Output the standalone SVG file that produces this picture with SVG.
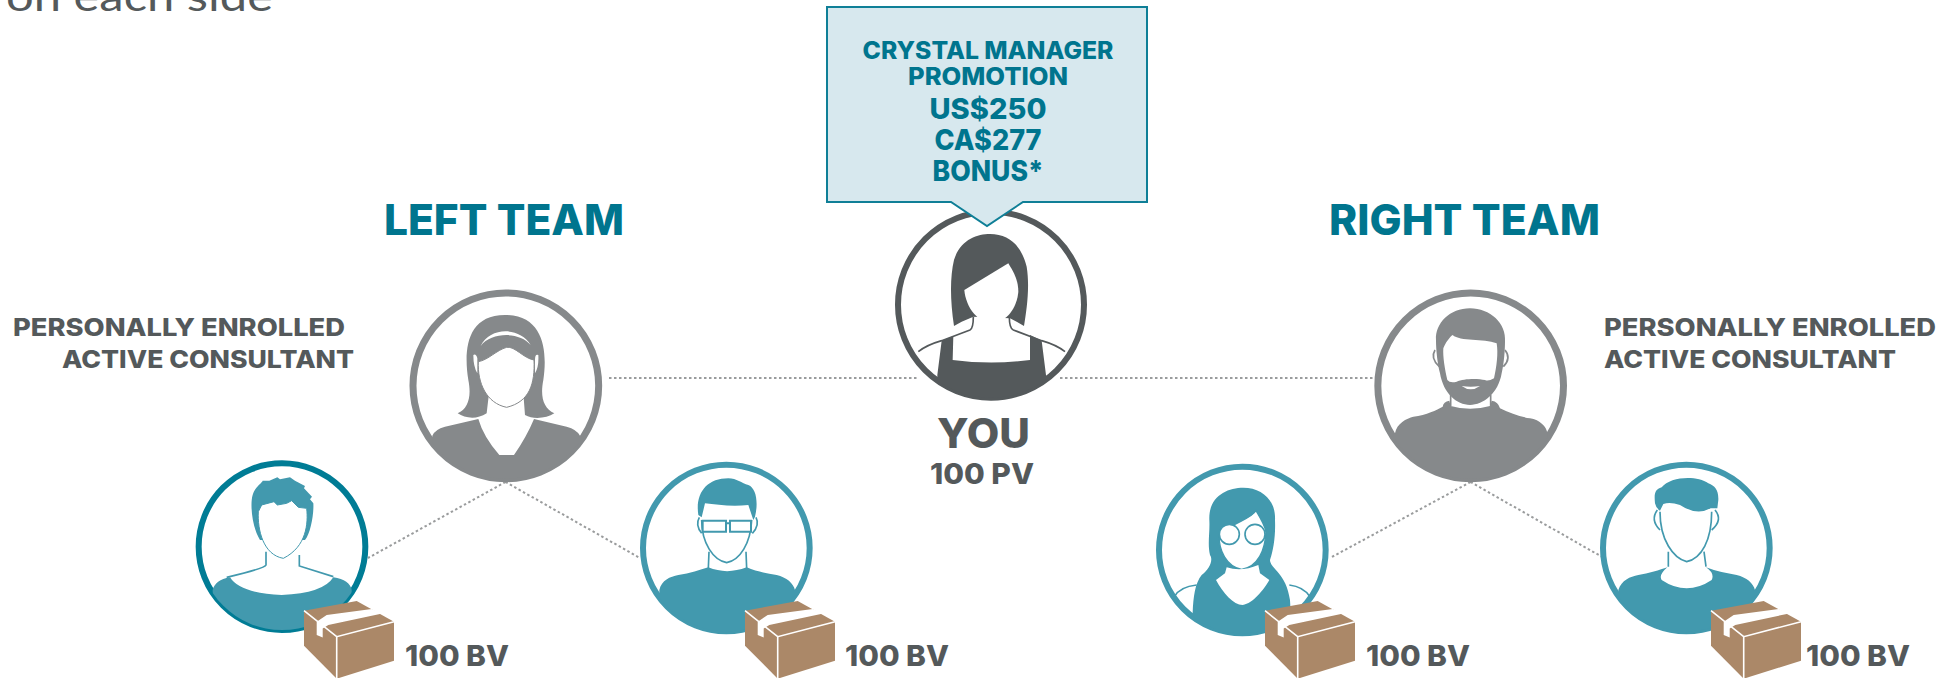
<svg xmlns="http://www.w3.org/2000/svg" width="1951" height="678" viewBox="0 0 1951 678">
<style>
text{font-family:"Inter","Liberation Sans",sans-serif;font-weight:700}
.d{fill:#54595b}.t{fill:#00758e}.m{fill:#86898b}
.big{font-weight:800}
.conn{fill:none;stroke:#9a9c9d;stroke-width:2;stroke-dasharray:2.5 2.5}
.ring{fill:#fff;stroke-width:18}
.w{fill:#fff}
.ol{fill:none;stroke-width:5}
.tl{fill:#4299ae}.tls{stroke:#4299ae}
</style>
<defs>
<g id="box">
<path d="M0 0L52.7-9.7L90 11V50L32.7 68L0 35Z" fill="#ab8868"/>
<path d="M0 0L32.7 26L90 11M32.7 26V68" fill="none" stroke="#fff" stroke-width="1.6"/>
<path d="M22.7 4.3L67.7-1.7L78.3 2.7L24.3 14.3L18.7 17.7V26.7L12.7 24.3V11Z" fill="#fff"/>
</g>
<clipPath id="c-you"><circle cx="573" cy="914" r="279"/></clipPath>
<clipPath id="c-lm"><circle cx="347.5" cy="347.5" r="279"/></clipPath>
<clipPath id="c-rm"><circle cx="362" cy="347.5" r="279"/></clipPath>
<clipPath id="c-1"><circle cx="306" cy="320" r="250"/></clipPath>
<clipPath id="c-2"><circle cx="319" cy="324" r="250"/></clipPath>
<clipPath id="c-3"><circle cx="337" cy="330" r="250"/></clipPath>
</defs>
<text x="6" y="11" font-size="41" class="d" style="font-weight:400;font-family:'Lato','Open Sans',sans-serif" textLength="267" lengthAdjust="spacingAndGlyphs">on each side</text>
<g id="connectors">
<path class="conn" d="M609 378H918M1060 378H1374M505.5 482L368 558M505.5 482L640 558M1470.5 482L1330 558M1470.5 482L1604 558"/>
</g>
<g id="you" transform="translate(800,0) scale(.33333)">
<circle cx="573" cy="914" r="279" fill="#fff" stroke="#54595b" stroke-width="18"/>
<path d="M462 978C450 900 450 830 462 780C480 720 530 702 570 702C630 702 665 740 680 800C690 860 680 930 672 978L650 965L630 955L520 950L485 965Z" fill="#54595b"/>
<path d="M493 870L625 790C640 815 655 840 655 875C650 930 615 968 575 968C535 968 498 925 493 870Z" fill="#fff"/>
<path clip-path="url(#c-you)" d="M412 1125L425 1022L460 1008L458 1080Q573 1095 690 1080L690 1005L725 1022L738 1125V1250H412Z" fill="#54595b"/>
<path class="ol" stroke="#54595b" d="M355 1055Q380 1035 425 1022L510 990Q520 985 520 950M795 1055Q770 1035 725 1022L640 990Q628 985 628 950"/>
</g>
<g id="callout">
<path d="M827 7H1147V202H1023L987 226L951 202H827Z" fill="#d7e8ee" stroke="#0f7f97" stroke-width="2"/>
<text class="t big" x="988" y="59" font-size="24" text-anchor="middle" textLength="251" lengthAdjust="spacingAndGlyphs">CRYSTAL MANAGER</text>
<text class="t big" x="988" y="85" font-size="24" text-anchor="middle" textLength="160" lengthAdjust="spacingAndGlyphs">PROMOTION</text>
<text class="t big" x="988" y="119" font-size="29" text-anchor="middle" textLength="117" lengthAdjust="spacingAndGlyphs">US$250</text>
<text class="t big" x="988" y="150" font-size="29" text-anchor="middle" textLength="107" lengthAdjust="spacingAndGlyphs">CA$277</text>
<text class="t big" x="988" y="181" font-size="29" text-anchor="middle" textLength="111" lengthAdjust="spacingAndGlyphs">BONUS*</text>
</g>
<g id="you-label">
<text class="d big" x="937" y="448" font-size="41" textLength="93" lengthAdjust="spacingAndGlyphs">YOU</text>
<text class="d big" x="930" y="484" font-size="29" textLength="104" lengthAdjust="spacingAndGlyphs">100 PV</text>
</g>
<g id="team-labels">
<text class="t big" x="384" y="235" font-size="43" textLength="240" lengthAdjust="spacingAndGlyphs">LEFT TEAM</text>
<text class="t big" x="1329" y="235" font-size="43" textLength="271" lengthAdjust="spacingAndGlyphs">RIGHT TEAM</text>
</g>
<g id="left-manager-label">
<text class="d big" x="13" y="336" font-size="24" textLength="332" lengthAdjust="spacingAndGlyphs">PERSONALLY ENROLLED</text>
<text class="d big" x="62" y="368" font-size="24" textLength="292" lengthAdjust="spacingAndGlyphs">ACTIVE CONSULTANT</text>
</g>
<g id="right-manager-label">
<text class="d big" x="1604" y="336" font-size="24" textLength="332" lengthAdjust="spacingAndGlyphs">PERSONALLY ENROLLED</text>
<text class="d big" x="1604" y="368" font-size="24" textLength="292" lengthAdjust="spacingAndGlyphs">ACTIVE CONSULTANT</text>
</g>
<g id="left-manager" transform="translate(390,270) scale(.33333)">
<circle cx="347.5" cy="347.5" r="278.5" fill="#fff" stroke="#86898b" stroke-width="21"/>
<path d="M203 430C235 415 245 380 235 330C222 250 225 135 345 135C465 135 472 250 460 330C450 380 460 415 493 430C470 445 430 450 405 435L400 370H297L290 430C260 450 225 445 203 430Z" fill="#86898b"/>
<path d="M265 275C295 270 320 240 350 232C375 228 400 265 432 270C435 340 420 395 350 412C290 400 262 340 265 275Z" fill="#fff" stroke="#86898b" stroke-width="3"/>
<path class="w" d="M272 228C300 170 390 170 422 225C390 185 305 185 272 228ZM250 255Q258 250 262 265V310Q250 290 250 255ZM445 255Q435 250 435 270V310Q447 290 445 255Z"/>
<path clip-path="url(#c-lm)" d="M127 497Q135 478 165 470L265 447Q280 500 328 555H372Q410 500 432 447L530 470Q560 478 570 497V700H127Z" fill="#86898b"/>
</g>
<g id="right-manager" transform="translate(1350,270) scale(.33333)">
<circle cx="362" cy="347.5" r="278.5" fill="#fff" stroke="#86898b" stroke-width="21"/>
<path d="M258 210C255 160 300 115 360 115C420 115 470 160 465 215C465 240 462 280 455 310C445 370 400 405 360 405C320 405 280 370 270 310C262 280 258 240 258 210Z" fill="#86898b"/>
<path class="w" d="M280 235C285 220 300 200 308 195C330 215 400 205 440 220C445 250 440 290 432 325Q415 335 405 330C385 325 340 325 320 335Q300 340 292 330C285 300 278 260 280 235ZM335 348Q362 352 390 348Q362 368 335 348Z"/>
<path class="ol" stroke="#86898b" d="M255 240Q240 265 268 290M465 240Q485 265 460 290M302 375V408M422 375V408"/>
<path clip-path="url(#c-rm)" d="M135 490C140 460 170 445 190 440C230 435 260 420 278 410Q280 395 298 392L302 408Q360 425 420 408L425 392Q445 395 450 415C480 430 510 440 540 445C570 450 590 470 592 490V700H135Z" fill="#86898b"/>
</g>
<g id="member-1" transform="translate(180,440) scale(.33333)">
<circle class="ring" cx="306" cy="320" r="250" stroke="#007c95"/>
<path class="tl" d="M240 300C215 260 210 190 218 165C225 140 245 130 248 122L268 122L292 112L300 118L330 112L345 122L375 138L372 145L396 170L390 178L400 190C402 220 392 280 375 300Z"/>
<path d="M235 215L245 195L282 185L292 195L320 190L335 182L355 202L380 205C385 250 380 320 310 355C250 345 232 270 235 215Z" fill="#fff" stroke="#4299ae" stroke-width="3"/>
<path class="ol tls" d="M258 335V375Q255 385 140 412M358 345V378L460 410"/>
<path clip-path="url(#c-1)" class="tl" d="M98 450Q105 420 150 412Q180 460 305 465Q430 460 460 412Q510 420 515 450V600H98Z"/>
</g>
<g id="member-2" transform="translate(620,440) scale(.33333)">
<circle class="ring tls" cx="319" cy="324" r="250"/>
<path class="tl" d="M235 225C225 160 260 115 325 115C350 115 365 130 385 135C410 145 415 190 405 230L400 240L385 195C340 200 290 195 255 190L245 232Z"/>
<path class="ol tls" d="M245 240C245 310 280 360 320 368C360 360 392 310 395 240M238 232Q225 255 245 280M408 232Q420 255 397 280M267 335L265 385M378 335L380 385"/>
<path d="M248 242H318V275H248ZM330 242H393V275H330ZM318 250H330" fill="#fff" stroke="#4299ae" stroke-width="6"/>
<path clip-path="url(#c-2)" class="tl" d="M118 450C125 420 150 410 175 405C210 400 240 390 265 382Q320 405 380 382C410 395 440 400 470 405C500 412 520 430 525 450V600H118Z"/>
</g>
<g id="member-3" transform="translate(1130,440) scale(.33333)">
<circle class="ring tls" cx="337" cy="330" r="250"/>
<path class="ol tls" d="M133 470Q150 440 200 435M540 470Q520 440 478 435"/>
<path clip-path="url(#c-3)" class="tl" d="M188 518C190 470 195 430 215 405C240 385 250 360 240 345C232 310 240 280 238 240C235 170 290 143 340 143C395 143 438 180 435 240C437 290 430 330 420 360C420 385 470 400 480 480L482 515V620H188Z"/>
<path d="M268 285C310 245 360 240 378 212C395 240 405 260 408 275C405 330 385 380 335 388C290 380 265 330 268 285Z" fill="#fff" stroke="#4299ae" stroke-width="4"/>
<path class="w" d="M290 382Q335 396 385 375L390 400L418 420C400 450 370 490 338 495C310 495 280 460 258 420L285 400Z"/>
<circle cx="298" cy="283" r="30" fill="#fff" stroke="#4299ae" stroke-width="5"/>
<circle cx="375" cy="283" r="30" fill="#fff" stroke="#4299ae" stroke-width="5"/>
<path class="ol tls" d="M405 275L412 262"/>
</g>
<g id="member-4" transform="translate(1580,440) scale(.33333)">
<circle class="ring tls" cx="319" cy="324" r="250"/>
<path class="tl" d="M225 190C222 160 225 148 245 142C270 110 350 105 385 130C405 138 416 150 415 180L412 205H392Q350 228 300 195Q270 185 250 192L240 212Q228 205 225 190Z"/>
<path class="ol tls" d="M240 215C240 300 280 355 320 365C365 355 395 300 395 215M232 210Q210 240 240 270M405 210Q430 240 395 270M265 335V380M372 335L378 380"/>
<path clip-path="url(#c-2)" class="tl" d="M115 450C125 420 150 410 175 405C205 400 240 390 262 382Q235 405 245 420Q320 470 395 420Q405 400 378 382C410 395 440 400 470 405C500 412 520 430 525 450V600H115Z"/>
</g>
<g id="box-1"><use href="#box" x="304" y="610.7"/><text class="d big" x="405" y="666" font-size="29" textLength="104" lengthAdjust="spacingAndGlyphs">100 BV</text></g>
<g id="box-2"><use href="#box" x="745" y="610.7"/><text class="d big" x="845" y="666" font-size="29" textLength="104" lengthAdjust="spacingAndGlyphs">100 BV</text></g>
<g id="box-3"><use href="#box" x="1265" y="610.7"/><text class="d big" x="1366" y="666" font-size="29" textLength="104" lengthAdjust="spacingAndGlyphs">100 BV</text></g>
<g id="box-4"><use href="#box" x="1711" y="610.7"/><text class="d big" x="1806" y="666" font-size="29" textLength="104" lengthAdjust="spacingAndGlyphs">100 BV</text></g>
</svg>
